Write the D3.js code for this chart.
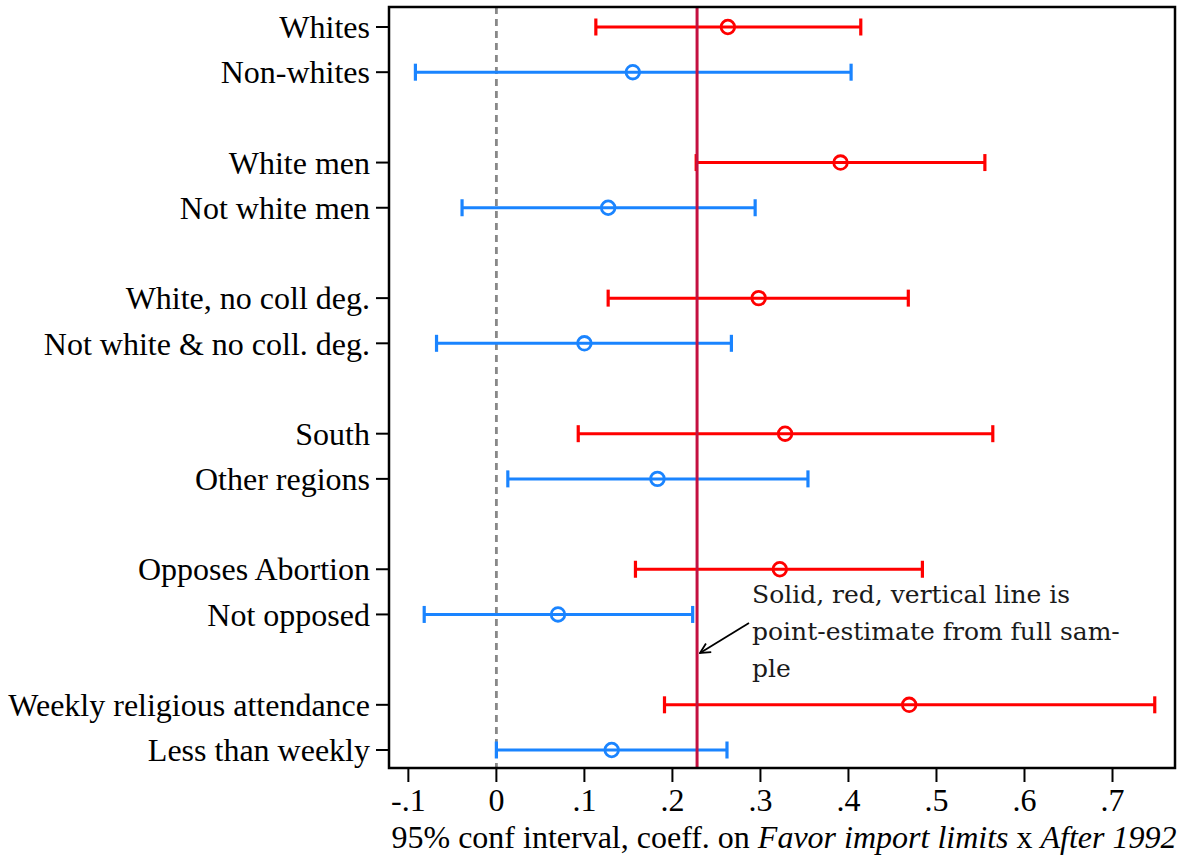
<!DOCTYPE html>
<html>
<head>
<meta charset="utf-8">
<script src="https://cdn.jsdelivr.net/npm/d3@7"></script>
<style>
  body { margin: 0; background: #fff; }
  svg { display: block; }
  .lab { font-family: "Liberation Serif", "Times New Roman", serif; }
  .note { font-family: "DejaVu Serif", serif; }
</style>
</head>
<body>
<svg id="chart" width="1186" height="858"></svg>
<script>
// subgroup labels, top to bottom
var labels = ["Whites", "Non-whites", "White men", "Not white men",
  "White, no coll deg.", "Not white & no coll. deg.", "South", "Other regions",
  "Opposes Abortion", "Not opposed", "Weekly religious attendance", "Less than weekly"];
// row slots (gap between each pair)
var slots = [0, 1, 3, 4, 6, 7, 9, 10, 12, 13, 15, 16];
var series = ["a", "b", "a", "b", "a", "b", "a", "b", "a", "b", "a", "b"];
var estimates = [0.263, 0.155, 0.391, 0.127, 0.298, 0.100, 0.328, 0.183, 0.322, 0.070, 0.469, 0.131];
var lowers = [0.113, -0.092, 0.227, -0.039, 0.127, -0.068, 0.093, 0.013, 0.158, -0.082, 0.191, 0.000];
var uppers = [0.414, 0.403, 0.555, 0.294, 0.468, 0.267, 0.564, 0.354, 0.484, 0.223, 0.748, 0.262];
var fullSample = 0.228;
var xTicks = [-0.1, 0, 0.1, 0.2, 0.3, 0.4, 0.5, 0.6, 0.7];
var xTickLabels = ["-.1", "0", ".1", ".2", ".3", ".4", ".5", ".6", ".7"];
var noteLines = ["Solid, red, vertical line is", "point-estimate from full sam-", "ple"];

var colors = {a: "#ff0000", b: "#1a84ff"};
// plot region edges (note: "top" is reserved on window, so use pTop)
var pLeft = 389, pRight = 1175, pTop = 7, pBottom = 768;

var svg = d3.select("#chart");

var x = d3.scaleLinear().domain([-0.122, 0.771]).range([pLeft, pRight]);
var y = d3.scaleLinear().domain([0, 16]).range([27, 750]);

// zero line
svg.append("line")
  .attr("x1", x(0)).attr("x2", x(0))
  .attr("y1", pTop).attr("y2", pBottom)
  .attr("stroke", "#888").attr("stroke-width", 2.8)
  .attr("stroke-dasharray", "7,5");

var rows = labels.map(function(d, i) {
  return {label: d, slot: slots[i], s: series[i], est: estimates[i], lo: lowers[i], hi: uppers[i]};
});

var g = svg.append("g");
var row = g.selectAll("g.row").data(rows).enter().append("g").attr("class", "row");

row.append("line")
  .attr("x1", d => x(d.lo)).attr("x2", d => x(d.hi))
  .attr("y1", d => y(d.slot)).attr("y2", d => y(d.slot))
  .attr("stroke", d => colors[d.s]).attr("stroke-width", 3);
row.append("line")
  .attr("x1", d => x(d.lo)).attr("x2", d => x(d.lo))
  .attr("y1", d => y(d.slot) - 8.5).attr("y2", d => y(d.slot) + 8.5)
  .attr("stroke", d => colors[d.s]).attr("stroke-width", 3.2);
row.append("line")
  .attr("x1", d => x(d.hi)).attr("x2", d => x(d.hi))
  .attr("y1", d => y(d.slot) - 8.5).attr("y2", d => y(d.slot) + 8.5)
  .attr("stroke", d => colors[d.s]).attr("stroke-width", 3.2);

// full sample estimate line, drawn over the bars
svg.append("line")
  .attr("x1", x(fullSample)).attr("x2", x(fullSample))
  .attr("y1", pTop).attr("y2", pBottom)
  .attr("stroke", "#c41040").attr("stroke-width", 3);

row.append("circle")
  .attr("cx", d => x(d.est)).attr("cy", d => y(d.slot))
  .attr("r", 6.8)
  .attr("fill", "none")
  .attr("stroke", d => colors[d.s]).attr("stroke-width", 2.8);

// frame
svg.append("rect")
  .attr("x", pLeft).attr("y", pTop)
  .attr("width", pRight - pLeft).attr("height", pBottom - pTop)
  .attr("fill", "none").attr("stroke", "#000").attr("stroke-width", 2.5);

// y axis
var yAxis = svg.append("g");
yAxis.selectAll("line").data(rows).enter().append("line")
  .attr("x1", pLeft - 13).attr("x2", pLeft)
  .attr("y1", d => y(d.slot)).attr("y2", d => y(d.slot))
  .attr("stroke", "#000").attr("stroke-width", 2);
yAxis.selectAll("text").data(rows).enter().append("text")
  .attr("class", "lab")
  .attr("x", pLeft - 19).attr("y", d => y(d.slot))
  .attr("dy", "0.35em")
  .attr("text-anchor", "end")
  .attr("font-size", 32)
  .text(d => d.label);

// x axis
var xAxis = svg.append("g");
xAxis.selectAll("line").data(xTicks).enter().append("line")
  .attr("x1", d => x(d)).attr("x2", d => x(d))
  .attr("y1", pBottom).attr("y2", pBottom + 14)
  .attr("stroke", "#000").attr("stroke-width", 2);
xAxis.selectAll("text").data(xTicks).enter().append("text")
  .attr("class", "lab")
  .attr("x", d => x(d)).attr("y", pBottom + 43)
  .attr("text-anchor", "middle")
  .attr("font-size", 32)
  .text((d, i) => xTickLabels[i]);

var title = svg.append("text")
  .attr("class", "lab")
  .attr("x", (pLeft + pRight) / 2 + 2).attr("y", 848)
  .attr("text-anchor", "middle")
  .attr("font-size", 32);
title.append("tspan").text("95% conf interval, coeff. on ");
title.append("tspan").attr("font-style", "italic").text("Favor import limits");
title.append("tspan").text(" x ");
title.append("tspan").attr("font-style", "italic").text("After 1992");

// annotation
svg.append("defs").append("marker")
  .attr("id", "arr").attr("viewBox", "0 0 10 10")
  .attr("refX", 9).attr("refY", 5)
  .attr("markerWidth", 7).attr("markerHeight", 7)
  .attr("orient", "auto")
  .append("path").attr("d", "M1,1 L9,5 L1,9")
  .attr("fill", "none").attr("stroke", "#000").attr("stroke-width", 1.4);

svg.append("line")
  .attr("x1", 749).attr("y1", 623)
  .attr("x2", 700).attr("y2", 653)
  .attr("stroke", "#000").attr("stroke-width", 1.8)
  .attr("marker-end", "url(#arr)");

svg.append("g").selectAll("text").data(noteLines).enter().append("text")
  .attr("class", "note")
  .attr("x", 752).attr("y", (d, i) => 603 + i * 37)
  .attr("font-size", 25)
  .attr("fill", "#1a1a1a")
  .text(d => d);
</script>
</body>
</html>
